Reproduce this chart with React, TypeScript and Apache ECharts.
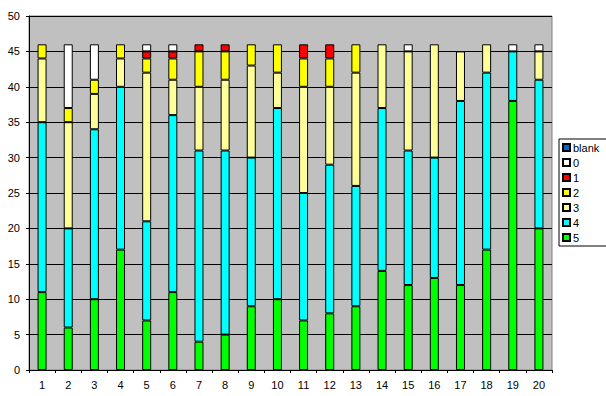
import React, { useEffect, useRef } from "react";
import * as echarts from "echarts";

const categories = ["1","2","3","4","5","6","7","8","9","10","11","12","13","14","15","16","17","18","19","20"];
const s5 = [11, 6, 10, 17, 7, 11, 4, 5, 9, 10, 7, 8, 9, 14, 12, 13, 12, 17, 38, 20];
const s4 = [24, 14, 24, 23, 14, 25, 27, 26, 21, 27, 18, 21, 17, 23, 19, 17, 26, 25, 7, 21];
const s3 = [9, 15, 5, 4, 21, 5, 9, 10, 13, 5, 15, 11, 16, 9, 14, 16, 7, 4, 0, 4];
const s2 = [2, 2, 2, 2, 2, 3, 5, 4, 3, 4, 4, 4, 4, 0, 0, 0, 0, 0, 0, 0];
const s1 = [0, 0, 0, 0, 1, 1, 1, 1, 0, 0, 2, 2, 0, 0, 0, 0, 0, 0, 0, 0];
const s0 = [0, 9, 5, 0, 1, 1, 0, 0, 0, 0, 0, 0, 0, 0, 1, 0, 0, 0, 1, 1];
const sBlank = [0, 0, 0, 0, 0, 0, 0, 0, 0, 0, 0, 0, 0, 0, 0, 0, 0, 0, 0, 0];
const yTicks = [0, 5, 10, 15, 20, 25, 30, 35, 40, 45, 50];

const seriesDefs = [
  { name: "5", data: s5, color: "#00ff00" },
  { name: "4", data: s4, color: "#00ffff" },
  { name: "3", data: s3, color: "#ffff99" },
  { name: "2", data: s2, color: "#ffff00" },
  { name: "1", data: s1, color: "#ff0000" },
  { name: "0", data: s0, color: "#ffffff" },
  { name: "blank", data: sBlank, color: "#0066cc" },
];

const FONT = "'Liberation Sans', Arial, sans-serif";

export default function App() {
  const ref = useRef<HTMLDivElement>(null);
  useEffect(() => {
    if (!ref.current) return;
    const chart = echarts.init(ref.current, null, { renderer: "svg" });
    chart.setOption({
      animation: false,
      grid: {
        left: 29,
        top: 16,
        right: 54,
        bottom: 26,
        show: true,
        backgroundColor: "#c0c0c0",
        borderColor: "#808080",
        borderWidth: 1,
      },
      legend: {
        orient: "vertical",
        left: 559,
        top: 139,
        data: ["blank", "0", "1", "2", "3", "4", "5"],
        icon: "rect",
        itemWidth: 7,
        itemHeight: 7,
        itemGap: 4,
        padding: [3, 8, 3, 3],
        borderColor: "#000",
        borderWidth: 1,
        backgroundColor: "#fff",
        textStyle: { fontFamily: FONT, fontSize: 11, color: "#000", lineHeight: 11, padding: [0, 0, 0, -2] },
      },
      xAxis: {
        type: "category",
        data: categories,
        axisLine: { lineStyle: { color: "#000", width: 1 } },
        axisTick: { show: true, length: 3, lineStyle: { color: "#000" } },
        axisLabel: { color: "#000", fontFamily: FONT, fontSize: 11, margin: 9 },
      },
      yAxis: {
        type: "value",
        min: yTicks[0],
        max: yTicks[yTicks.length - 1],
        interval: 5,
        axisLine: { show: true, lineStyle: { color: "#000", width: 1 } },
        axisTick: { show: true, length: 3, lineStyle: { color: "#000" } },
        splitLine: { show: true, lineStyle: { color: "#000", width: 1 } },
        axisLabel: { color: "#000", fontFamily: FONT, fontSize: 11, margin: 9 },
      },
      series: seriesDefs.map((s) => ({
        name: s.name,
        type: "bar",
        stack: "total",
        barWidth: 9,
        data: s.data.map((v) => (v === 0 ? "-" : v)),
        itemStyle: { color: s.color, borderColor: "#000", borderWidth: 1 },
      })),
    });
    return () => chart.dispose();
  }, []);
  return <div ref={ref} style={{ width: 606, height: 396, position: "absolute", left: 0, top: 0, background: "#fff" }} />;
}
